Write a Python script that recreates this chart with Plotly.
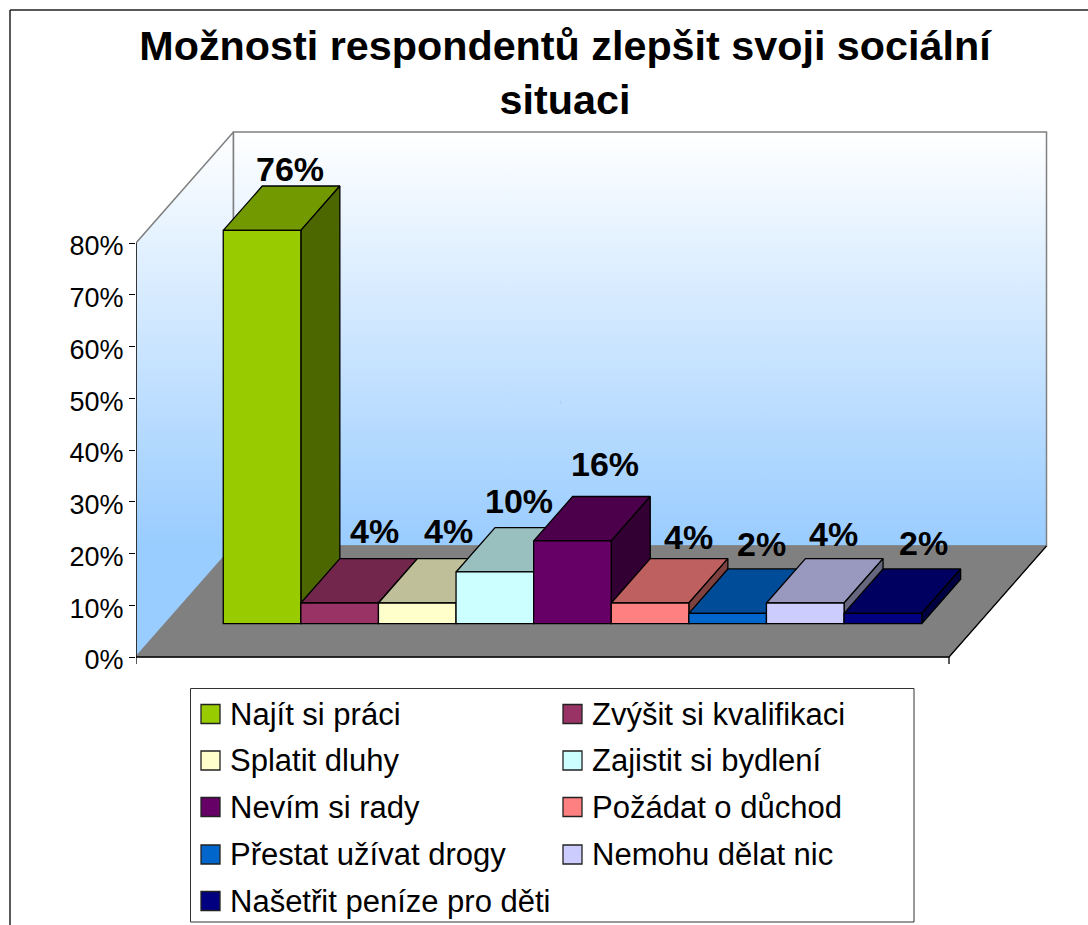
import plotly.graph_objects as go

# ---------- data ----------
categories = ["Najít si práci", "Zvýšit si kvalifikaci", "Splatit dluhy", "Zajistit si bydlení",
              "Nevím si rady", "Požádat o důchod", "Přestat užívat drogy", "Nemohu dělat nic",
              "Našetřit peníze pro děti"]
values = [76, 4, 4, 10, 16, 4, 2, 4, 2]
colors = ["#99CC00", "#993366", "#FFFFCC", "#CCFFFF", "#660066", "#FF8080", "#0066CC", "#CCCCFF", "#000080"]
y_ticks = [0, 10, 20, 30, 40, 50, 60, 70, 80]
title_text = "Možnosti respondentů zlepšit svoji sociální<br>situaci"

# label nudges in pixels (labels were hand-placed in the original)
label_dx = [-11, -4, -8, -15, -6, -1, -5, -11, 2]
label_dy = [17, 28, 28, 27, 33, 22, 25, 25, 26]

# ---------- layout geometry (pixels) ----------
W, H = 1088, 925
X0, Y0 = 136, 657          # origin of the front plane
PX_PER_CAT = 813 / 9
PX_PER_PCT = 5.175
DX, DY = 97.5, 111.0       # whole floor depth vector
BAR_PX = 77.6
BARS_START_PX = 58.0       # first bar from the left of the bar row
D_FRONT, D_BACK = 0.30, 0.70


def dx(px):
    return px / PX_PER_CAT


def dy(px):
    return px / PX_PER_PCT


def proj(cat, val, depth):
    """oblique projection of (category, value, depth) into axis units"""
    return cat + depth * dx(DX), val + depth * dy(DY)


def poly(points, fill=None, line="black", lw=1.3, **kw):
    xs = [p[0] for p in points] + [points[0][0]]
    ys = [p[1] for p in points] + [points[0][1]]
    args = dict(x=xs, y=ys, mode="lines", fill="toself", line=dict(color=line, width=lw),
                hoverinfo="skip", showlegend=False)
    if fill:
        args["fillcolor"] = fill
    args.update(kw)
    return go.Scatter(**args)


def shade(hex_color, f):
    r, g, b = [int(hex_color[i:i + 2], 16) for i in (1, 3, 5)]
    return f"rgb({int(r * f)},{int(g * f)},{int(b * f)})"


fig = go.Figure()

wall_val = (Y0 - 243) / PX_PER_PCT
grad_low = proj(0, 0, 1)[1]
grad_high = proj(0, wall_val, 1)[1]
grad = dict(type="vertical", colorscale=[[0, "#99CCFF"], [1, "#FFFFFF"]], start=grad_low, stop=grad_high)

# walls and floor
fig.add_trace(poly([proj(0, 0, 0), proj(0, wall_val, 0), proj(0, wall_val, 1), proj(0, 0, 1)],
                   line="#808080", lw=1.5, fillgradient=grad))
fig.add_trace(poly([proj(0, 0, 1), proj(0, wall_val, 1), proj(9, wall_val, 1), proj(9, 0, 1)],
                   line="#808080", lw=1.5, fillgradient=grad))
fig.add_trace(poly([proj(0, 0, 0), proj(9, 0, 0), proj(9, 0, 1), proj(0, 0, 1)],
                   fill="#808080", line="#808080", lw=1))
# front and right floor edges + axis lines + category end ticks
fig.add_trace(go.Scatter(
    x=[proj(9, 0, 1)[0], 9, 0, None, 9, 9, None, 0, 0],
    y=[proj(9, 0, 1)[1], 0, 0, None, 0, -dy(7), None, -dy(7), wall_val],
    mode="lines", line=dict(color="black", width=1.3), hoverinfo="skip", showlegend=False))

positions = [dx(BARS_START_PX + i * BAR_PX) for i in range(len(values))]
bw = dx(BAR_PX)

# bar tops and sides
for p, v, c in zip(positions, values, colors):
    fig.add_trace(poly([proj(p, v, D_FRONT), proj(p + bw, v, D_FRONT), proj(p + bw, v, D_BACK), proj(p, v, D_BACK)],
                       fill=shade(c, 0.75)))
    fig.add_trace(poly([proj(p + bw, 0, D_FRONT), proj(p + bw, v, D_FRONT), proj(p + bw, v, D_BACK), proj(p + bw, 0, D_BACK)],
                       fill=shade(c, 0.5)))

# bar fronts, one trace per series, on an overlaying axis pair so they sit above the faces
base_y = proj(0, 0, D_FRONT)[1]
for p, v, c, name in zip(positions, values, colors, categories):
    fig.add_trace(go.Bar(x=[proj(p + bw / 2, 0, D_FRONT)[0]], y=[v], base=base_y, width=bw, name=name,
                         marker=dict(color=c, line=dict(color="black", width=1.3)),
                         xaxis="x2", yaxis="y2", showlegend=False, hoverinfo="skip"))

x_range = [0, dx(W - X0)]
y_range = [-dy(H - Y0), dy(Y0)]

annotations = []
for p, v, t_dx, t_dy in zip(positions, values, label_dx, label_dy):
    ax, ay = proj(p + bw / 2, v, D_BACK)
    annotations.append(dict(x=ax, y=ay, xref="x", yref="y", text=f"<b>{v}%</b>", showarrow=False,
                            xshift=t_dx, yshift=t_dy, font=dict(size=34, color="black", family="Liberation Sans"),
                            xanchor="center", yanchor="middle"))


def px_x(px):
    return (px - X0) / (W - X0)


def px_y(py):
    return 1 - py / H


# tiny stray mark present on the wall of the original
annotations.append(dict(x=px_x(560.5), y=px_y(402), xref="paper", yref="paper", text=":", showarrow=False,
                        font=dict(size=5, color="#445566", family="Liberation Sans")))

shapes = [
    dict(type="line", xref="paper", yref="paper", x0=px_x(10), x1=px_x(10), y0=px_y(10), y1=px_y(H),
         line=dict(color="#222222", width=1.5)),
    dict(type="line", xref="paper", yref="paper", x0=px_x(10), x1=px_x(W), y0=px_y(10), y1=px_y(10),
         line=dict(color="#222222", width=1.5)),
    dict(type="rect", xref="paper", yref="paper", x0=px_x(190.5), x1=px_x(914), y0=px_y(688.5), y1=px_y(922),
         fillcolor="white", line=dict(color="#333333", width=1)),
]

# legend in two columns, filled row by row
LEG_X = [201, 563]
LEG_Y = [714, 760.5, 807, 854.5, 901]
for i, (name, c) in enumerate(zip(categories, colors)):
    col, row = i % 2, i // 2
    x0, yc = LEG_X[col], LEG_Y[row]
    shapes.append(dict(type="rect", xref="paper", yref="paper", x0=px_x(x0), x1=px_x(x0 + 19),
                       y0=px_y(yc - 9.5), y1=px_y(yc + 9.5), fillcolor=c, line=dict(color="#222222", width=1.3)))
    annotations.append(dict(x=px_x(x0 + 27), y=px_y(yc), xref="paper", yref="paper", text=name, showarrow=False,
                            xanchor="left", yanchor="middle",
                            font=dict(size=31, color="black", family="Liberation Sans")))

fig.update_layout(
    width=W, height=H, margin=dict(l=X0, r=0, t=0, b=0, pad=0),
    paper_bgcolor="white", plot_bgcolor="white", barmode="overlay", showlegend=False,
    title=dict(text=title_text, x=565 / W, xanchor="center", y=1 - 60 / H, yanchor="top",
               font=dict(size=41.3, color="black", family="Liberation Sans", weight="bold")),
    xaxis=dict(range=x_range, visible=False, fixedrange=True),
    yaxis=dict(range=y_range, tickmode="array", tickvals=y_ticks, ticktext=[f"{t}%" for t in y_ticks],
               ticks="outside", ticklen=6, tickcolor="black", tickwidth=1.2, showgrid=False, zeroline=False,
               showline=False, fixedrange=True, ticklabelshift=3,
               tickfont=dict(size=27, color="black", family="Liberation Sans")),
    xaxis2=dict(range=x_range, visible=False, overlaying="x", fixedrange=True),
    yaxis2=dict(range=y_range, visible=False, overlaying="y", fixedrange=True),
    shapes=shapes, annotations=annotations,
)

fig.write_html("out.html", config={"displayModeBar": False}, post_script="document.body.style.margin='0';")
